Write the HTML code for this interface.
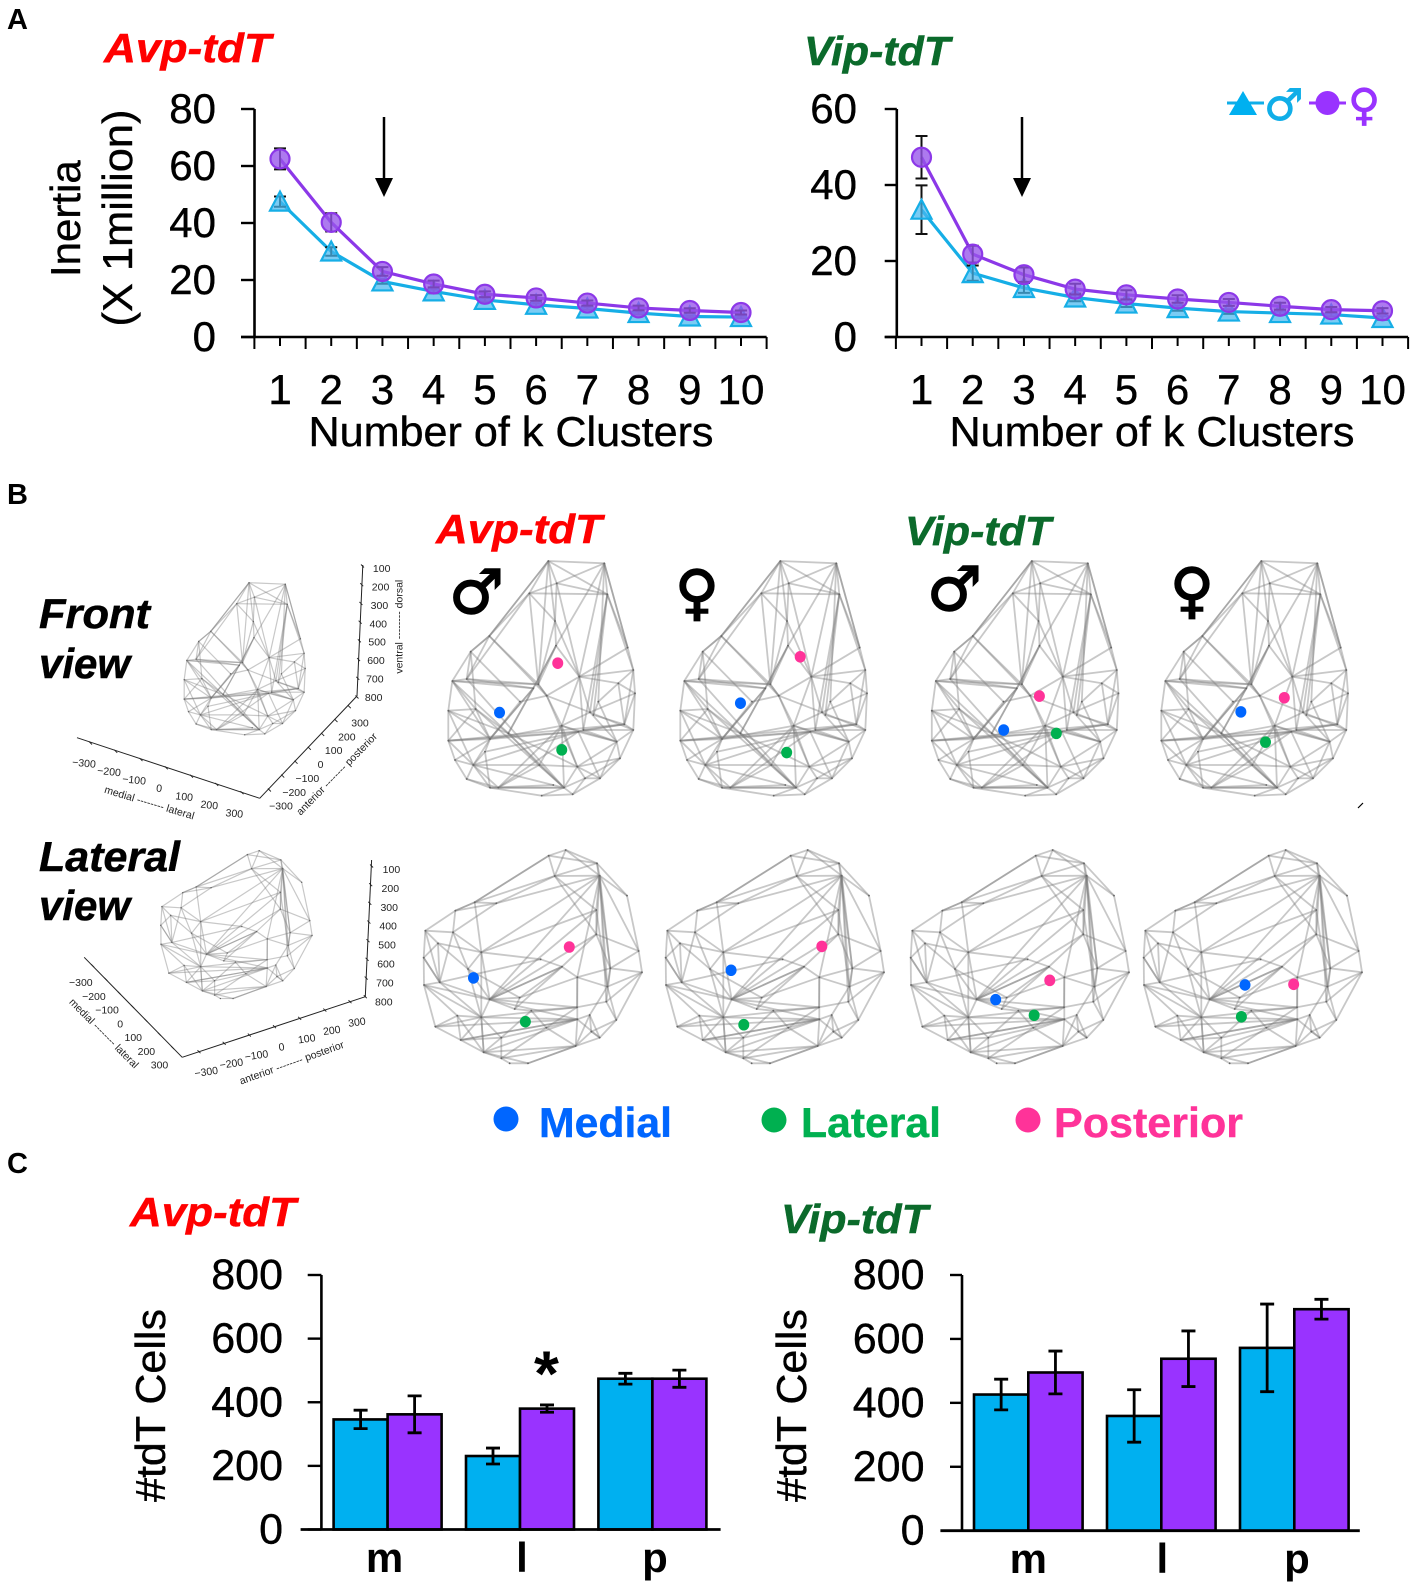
<!DOCTYPE html>
<html lang="en">
<head>
<meta charset="utf-8">
<title>Inertia, cluster positions and tdT cell counts</title>
<style>
  html,body{margin:0;padding:0;background:#fff;}
  svg{display:block;font-family:"Liberation Sans",sans-serif;}
  .panel{font-weight:bold;font-size:29px;fill:#000;}
  .title{font-weight:bold;font-style:italic;font-size:41px;stroke-width:.5px;}
  .view{font-weight:bold;font-style:italic;font-size:42px;fill:#000;stroke:#000;stroke-width:.5px;}
  .axis{font-size:42px;fill:#000;stroke:#000;stroke-width:.4px;}
  .sym{font-family:"DejaVu Sans",sans-serif;font-weight:bold;}
  .leg{font-weight:bold;font-size:42px;}
</style>
</head>
<body>
<svg id="fig" xmlns="http://www.w3.org/2000/svg" width="1416" height="1588" viewBox="0 0 1416 1588">
  <rect width="1416" height="1588" fill="#fff"/>

  <text class="panel" x="7" y="29">A</text>
  <text class="panel" x="7" y="504">B</text>
  <text class="panel" x="7" y="1173">C</text>

  <text class="title" x="104" y="62" fill="#ff0000" stroke="#ff0000" textLength="167" lengthAdjust="spacingAndGlyphs">Avp-tdT</text>
  <text class="title" x="804" y="65" fill="#0b6a2b" stroke="#0b6a2b" textLength="146" lengthAdjust="spacingAndGlyphs">Vip-tdT</text>
  <text class="title" x="436" y="543" fill="#ff0000" stroke="#ff0000" textLength="166" lengthAdjust="spacingAndGlyphs">Avp-tdT</text>
  <text class="title" x="905" y="545" fill="#0b6a2b" stroke="#0b6a2b" textLength="146" lengthAdjust="spacingAndGlyphs">Vip-tdT</text>
  <text class="title" x="130" y="1226" fill="#ff0000" stroke="#ff0000" textLength="166" lengthAdjust="spacingAndGlyphs">Avp-tdT</text>
  <text class="title" x="781" y="1233" fill="#0b6a2b" stroke="#0b6a2b" textLength="147" lengthAdjust="spacingAndGlyphs">Vip-tdT</text>

  <text class="axis" transform="translate(80,277) rotate(-90)">Inertia</text>
  <text class="axis" transform="translate(132,326.5) rotate(-90)" textLength="217" lengthAdjust="spacingAndGlyphs">(X 1million)</text>
  <text class="axis" x="308.5" y="446" textLength="405" lengthAdjust="spacingAndGlyphs">Number of k Clusters</text>
  <text class="axis" x="949.5" y="446" textLength="405" lengthAdjust="spacingAndGlyphs">Number of k Clusters</text>
  <text class="axis" transform="translate(165,1502) rotate(-90)" textLength="193" lengthAdjust="spacingAndGlyphs">#tdT Cells</text>
  <text class="axis" transform="translate(806,1502) rotate(-90)" textLength="193" lengthAdjust="spacingAndGlyphs">#tdT Cells</text>

  <g>
    <line x1="384" y1="117" x2="384" y2="180" stroke="#000" stroke-width="2.5"/>
    <polygon points="375,178 393,178 384,197" fill="#000"/>
  </g>
  <g>
    <line x1="1022" y1="117" x2="1022" y2="180" stroke="#000" stroke-width="2.5"/>
    <polygon points="1013,178 1031,178 1022,197" fill="#000"/>
  </g>

  <g>
    <line x1="1227" y1="103" x2="1264" y2="103" stroke="#10aee8" stroke-width="3"/>
    <polygon points="1243,91 1257,115 1229,115" fill="#00b0f0"/>
    <text class="sym" x="1264" y="120" font-size="44" fill="#10aee8" stroke="#10aee8" stroke-width=".8">♂</text>
    <line x1="1309" y1="103" x2="1346" y2="103" stroke="#9933ff" stroke-width="3"/>
    <circle cx="1327.5" cy="103" r="12" fill="#9933ff"/>
    <text class="sym" x="1348" y="120" font-size="44" fill="#9933ff" stroke="#9933ff" stroke-width=".8">♀</text>
  </g>

  <text class="view" x="39" y="628" textLength="111" lengthAdjust="spacingAndGlyphs">Front</text>
  <text class="view" x="39" y="678">view</text>
  <text class="view" x="39" y="871" textLength="141" lengthAdjust="spacingAndGlyphs">Lateral</text>
  <text class="view" x="39" y="920">view</text>

  <text class="sym" x="449" y="613" font-size="61" fill="#000" stroke="#000" stroke-width="1.6">♂</text>
  <text class="sym" x="675" y="613" font-size="60" fill="#000" stroke="#000" stroke-width="1.6">♀</text>
  <text class="sym" x="927" y="610" font-size="61" fill="#000" stroke="#000" stroke-width="1.6">♂</text>
  <text class="sym" x="1170" y="611" font-size="60" fill="#000" stroke="#000" stroke-width="1.6">♀</text>

  <g>
    <ellipse cx="506" cy="1119" rx="12.5" ry="12.5" fill="#0066ff"/>
    <text class="leg" x="539" y="1137" fill="#0066ff" stroke="#0066ff" stroke-width=".4" textLength="133" lengthAdjust="spacingAndGlyphs">Medial</text>
    <ellipse cx="774" cy="1120" rx="12.5" ry="12.5" fill="#00b050"/>
    <text class="leg" x="801" y="1137" fill="#00b050" stroke="#00b050" stroke-width=".4" textLength="140" lengthAdjust="spacingAndGlyphs">Lateral</text>
    <ellipse cx="1028" cy="1120" rx="12.5" ry="12.5" fill="#ff3399"/>
    <text class="leg" x="1054" y="1137" fill="#ff3399" stroke="#ff3399" stroke-width=".4" textLength="189" lengthAdjust="spacingAndGlyphs">Posterior</text>
  </g>

  <line x1="1358" y1="808" x2="1363" y2="803" stroke="#000" stroke-width="1.2"/>
</svg>

<script>
/* ---------- Panel A data ---------- */
const kClusters = [1, 2, 3, 4, 5, 6, 7, 8, 9, 10];
const avpInertiaMale = [47.5, 30, 19.5, 16, 13, 11.3, 10, 8.4, 7.2, 7];
const avpInertiaFemale = [62.5, 40.2, 23, 18.6, 15, 13.7, 11.9, 10.2, 9.3, 8.6];
const avpErrorMale = [1.8, 1.5, 0.8, 0.7, 0.6, 0.6, 0.5, 0.5, 0.4, 0.4];
const avpErrorFemale = [3.7, 3.2, 1.5, 1.2, 1, 1, 0.9, 0.8, 0.8, 0.7];
const vipInertiaMale = [33.5, 16.8, 12.9, 10.4, 8.8, 7.6, 6.7, 6.3, 5.9, 5];
const vipInertiaFemale = [47.3, 21.8, 16.4, 12.6, 11.1, 10, 9.1, 8.1, 7.2, 6.9];
const vipErrorMale = [6.4, 2, 1.3, 1, 0.9, 0.7, 0.6, 0.5, 0.5, 0.5];
const vipErrorFemale = [5.6, 2.2, 1.9, 1.4, 1.2, 1, 0.9, 0.9, 0.7, 0.7];
const avpInertiaTicks = [0, 20, 40, 60, 80];
const vipInertiaTicks = [0, 20, 40, 60];

/* ---------- Panel C data ---------- */
const regionCategories = ['m', 'l', 'p'];
const avpCellsMale = [346, 231, 474];
const avpCellsFemale = [362, 380, 474];
const avpCellsErrorMale = [29, 25, 17];
const avpCellsErrorFemale = [58, 11.5, 27];
const vipCellsMale = [426, 359, 572];
const vipCellsFemale = [495, 538, 693];
const vipCellsErrorMale = [48, 82, 137];
const vipCellsErrorFemale = [67, 87, 31];
const cellTicks = [0, 200, 400, 600, 800];

/* ---------- Panel B data: coordinates in axis units, one per panel (Avp male, Avp female, Vip male, Vip female) ---------- */
const frontMedialML = [-133, -104, -66, -41];
const frontMedialDV = [557, 529, 609, 555];
const frontLateralML = [69, 46, 105, 39];
const frontLateralDV = [668, 676, 619, 645];
const frontPosteriorML = [56, 90, 50, 100];
const frontPosteriorDV = [410, 391, 508, 513];
const sideMedialAP = [-164, -121, -67, -22];
const sideMedialDV = [518, 493, 589, 541];
const sideLateralAP = [-21, -86, 39, -32];
const sideLateralDV = [661, 671, 640, 645];
const sidePosteriorAP = [100, 129, 82, 112];
const sidePosteriorDV = [417, 415, 526, 539];
const planeTicks = ['\u2212300', '\u2212200', '\u2212100', '0', '100', '200', '300'];
const depthTicks = ['800', '700', '600', '500', '400', '300', '200', '100'];

/* ---------- Wireframe surface shapes ---------- */
const frontNodes = [[325,18],[493,25],[350,85],[268,115],[502,118],[345,198],[563,278],[148,243],[92,290],[348,272],[418,365],[580,345],[295,388],[37,378],[80,372],[280,400],[320,422],[450,472],[585,415],[25,467],[107,462],[150,552],[365,512],[430,525],[553,508],[580,525],[25,557],[100,630],[298,630],[412,635],[540,610],[480,670],[80,672],[175,698],[372,698],[435,670],[398,718],[305,722],[205,535],[240,440],[135,590],[535,385],[475,440],[460,480],[415,530],[45,615],[530,560],[150,698],[340,690]];
const frontEdges = [[0,1],[0,7],[0,7],[7,8],[7,8],[8,13],[13,19],[19,26],[26,45],[45,32],[32,47],[47,37],[37,36],[36,31],[31,30],[30,25],[25,18],[18,11],[11,6],[6,1],[6,1],[0,2],[0,4],[1,2],[2,3],[2,4],[3,4],[1,4],[4,6],[4,11],[0,3],[0,5],[0,12],[2,5],[2,10],[3,5],[3,7],[3,12],[3,14],[1,9],[1,10],[1,42],[4,17],[4,23],[4,43],[5,10],[5,12],[9,15],[9,15],[9,10],[9,12],[7,14],[7,12],[7,16],[8,14],[8,20],[14,12],[14,15],[13,14],[13,12],[13,15],[13,20],[13,21],[13,38],[15,38],[15,38],[15,21],[15,21],[39,21],[39,16],[20,19],[20,21],[20,26],[20,38],[19,21],[19,27],[26,21],[26,27],[26,44],[21,22],[21,27],[21,45],[21,40],[40,27],[40,47],[38,34],[38,28],[38,29],[14,34],[20,34],[16,10],[16,22],[16,17],[16,29],[16,12],[10,17],[10,41],[10,11],[10,22],[10,23],[10,6],[17,22],[17,25],[17,46],[17,18],[22,34],[22,28],[22,29],[22,44],[23,24],[23,44],[23,25],[23,46],[24,25],[24,41],[24,18],[24,11],[41,18],[41,42],[41,11],[42,43],[42,46],[43,24],[44,46],[44,31],[44,24],[45,27],[27,32],[27,33],[27,28],[27,34],[27,47],[28,33],[28,34],[28,29],[29,34],[29,31],[29,35],[29,30],[29,46],[30,35],[30,46],[31,35],[35,34],[35,36],[34,36],[34,37],[33,34],[47,34],[47,48],[32,33],[46,25],[46,31],[22,46],[40,44],[21,44],[26,24],[27,44],[33,22],[33,44],[12,16],[5,9],[19,38],[8,39]];
const sideNodes = [[443,15],[392,32],[537,55],[545,92],[627,152],[410,93],[112,197],[170,172],[235,175],[22,257],[105,262],[190,322],[535,195],[535,268],[662,318],[672,382],[577,370],[432,365],[478,397],[17,338],[65,412],[18,420],[215,463],[305,458],[477,487],[568,425],[190,517],[52,545],[340,497],[478,523],[595,525],[128,585],[197,622],[250,578],[545,578],[473,603],[250,640],[275,655],[330,655],[60,295],[150,372],[118,512],[368,343],[290,492],[385,548],[565,470],[515,510],[520,560]];
const sideEdges = [[0,1],[1,7],[1,7],[7,6],[7,6],[6,9],[9,19],[19,21],[21,27],[27,31],[31,32],[32,36],[36,37],[37,38],[38,35],[38,35],[35,34],[34,30],[30,15],[15,14],[14,4],[4,2],[2,0],[0,5],[1,5],[5,2],[5,3],[0,3],[2,3],[1,2],[3,4],[5,7],[5,8],[8,7],[8,10],[6,10],[8,6],[9,10],[7,11],[10,11],[9,39],[39,11],[39,40],[19,39],[39,20],[10,40],[10,20],[11,40],[19,20],[9,20],[20,21],[40,23],[40,26],[40,22],[11,22],[11,26],[3,12],[3,13],[3,16],[3,14],[3,18],[3,11],[3,22],[3,8],[2,16],[5,12],[5,13],[12,11],[12,22],[12,13],[13,22],[13,16],[13,17],[13,14],[16,14],[16,15],[16,18],[16,25],[16,45],[3,25],[3,45],[12,25],[17,22],[17,22],[17,23],[17,18],[17,43],[17,42],[42,20],[42,11],[18,24],[18,23],[18,29],[18,25],[25,15],[25,30],[45,15],[45,30],[45,24],[24,22],[24,26],[29,26],[29,46],[46,47],[46,34],[46,25],[47,34],[47,35],[29,34],[29,35],[22,23],[22,26],[22,43],[23,43],[20,26],[20,22],[21,26],[21,41],[27,26],[27,41],[41,31],[41,26],[41,32],[26,32],[26,32],[26,31],[26,33],[33,31],[33,32],[33,36],[33,44],[33,28],[28,44],[44,29],[44,35],[44,24],[28,43],[36,35],[32,35],[32,38],[32,29],[31,29],[31,29],[27,29],[36,44],[35,46],[28,24],[30,47],[19,20],[21,29]];

const NS = 'http://www.w3.org/2000/svg';
const fig = document.getElementById('fig');

function svgEl(tag, attrs, parent) {
  const e = document.createElementNS(NS, tag);
  for (const k in attrs) e.setAttribute(k, attrs[k]);
  parent.appendChild(e);
  return e;
}

/* ---------- Inertia line charts ---------- */
function drawInertiaChart(cfg) {
  const chart = svgEl('g', {}, fig);
  
  
  const xScale = k => cfg.x1 + (k - kClusters[0]) * (cfg.x10 - cfg.x1) / (kClusters[kClusters.length - 1] - kClusters[0]);
  const yScale = v => cfg.bottom - v * (cfg.bottom - cfg.top) / cfg.yMax;
  const halfStep = (cfg.x10 - cfg.x1) / (kClusters.length - 1) / 2;

  const yAxis = svgEl('line', {x1: cfg.axisX, x2: cfg.axisX, y1: cfg.top, y2: cfg.bottom, stroke: '#000', 'stroke-width': 2.6}, chart);
  
  
  const xAxis = svgEl('line', {x1: cfg.tickLeft, x2: cfg.x10 + halfStep, y1: cfg.bottom, y2: cfg.bottom, stroke: '#000', 'stroke-width': 2.6}, chart);
  
  

  cfg.ticks.forEach(t => {
    const y = yScale(t);
    const tick = svgEl('line', {x1: cfg.tickLeft, x2: cfg.axisX, y1: y, y2: y, stroke: '#000', 'stroke-width': 2.4}, chart);
    
    
    const lab = svgEl('text', {x: cfg.labelRight, y: y + 14, 'text-anchor': 'end', 'font-size': 42, fill: '#000', stroke: '#000', 'stroke-width': 0.4}, chart);
    lab.textContent = t;
    
    
  });

  kClusters.forEach(k => {
    const x = xScale(k);
    const mid = svgEl('line', {x1: x, x2: x, y1: cfg.bottom, y2: cfg.bottom + 9, stroke: '#000', 'stroke-width': 2}, chart);
    
    
    const edge = svgEl('line', {x1: x - halfStep, x2: x - halfStep, y1: cfg.bottom, y2: cfg.bottom + 12, stroke: '#000', 'stroke-width': 2}, chart);
    
    
    const lab = svgEl('text', {x: x, y: 404, 'text-anchor': 'middle', 'font-size': 42, fill: '#000', stroke: '#000', 'stroke-width': 0.4}, chart);
    lab.textContent = k;
    
    
  });
  const lastEdge = svgEl('line', {x1: cfg.x10 + halfStep, x2: cfg.x10 + halfStep, y1: cfg.bottom, y2: cfg.bottom + 12, stroke: '#000', 'stroke-width': 2}, chart);
  
  

  drawSeries(chart, 'male', cfg.male, cfg.maleErr, xScale, yScale, '#16aee6');
  drawSeries(chart, 'female', cfg.female, cfg.femaleErr, xScale, yScale, '#8c38e8');
}

function drawSeries(chart, sex, values, errors, xScale, yScale, color) {
  const pts = values.map((v, i) => xScale(kClusters[i]) + ',' + yScale(v)).join(' ');
  const line = svgEl('polyline', {points: pts, fill: 'none', stroke: color, 'stroke-width': 3.2}, chart);
  
  
  values.forEach((v, i) => {
    const x = xScale(kClusters[i]);
    const y = yScale(v);
    const hi = yScale(v + errors[i]);
    const lo = yScale(v - errors[i]);
    const err = svgEl('path', {d: 'M' + (x - 6) + ' ' + hi + 'H' + (x + 6) + 'M' + x + ' ' + hi + 'V' + lo + 'M' + (x - 6) + ' ' + lo + 'H' + (x + 6), fill: 'none', stroke: '#111', 'stroke-width': 2}, chart);
    
    
    let marker;
    if (sex === 'male') {
      marker = svgEl('polygon', {points: x + ',' + (y - 10) + ' ' + (x + 10) + ',' + (y + 9) + ' ' + (x - 10) + ',' + (y + 9), fill: 'rgba(70,185,240,.72)', stroke: color, 'stroke-width': 2.2}, chart);
    } else {
      marker = svgEl('circle', {cx: x, cy: y, r: 9.5, fill: 'rgba(150,85,235,.78)', stroke: color, 'stroke-width': 2.2}, chart);
    }
    
    
  });
}

drawInertiaChart({name: 'avp-inertia-chart', x1: 280, x10: 741, axisX: 254.5, tickLeft: 241, labelRight: 216, top: 109, bottom: 337, yMax: 80, ticks: avpInertiaTicks, male: avpInertiaMale, maleErr: avpErrorMale, female: avpInertiaFemale, femaleErr: avpErrorFemale});
drawInertiaChart({name: 'vip-inertia-chart', x1: 921.5, x10: 1382.5, axisX: 896.8, tickLeft: 884.7, labelRight: 857, top: 109, bottom: 337, yMax: 60, ticks: vipInertiaTicks, male: vipInertiaMale, maleErr: vipErrorMale, female: vipInertiaFemale, femaleErr: vipErrorFemale});

/* ---------- Wireframes ---------- */
function drawMesh(name, nodes, edges, mapX, mapY, width, nodeR) {
  const g = svgEl('g', {}, fig);
  
  
  edges.forEach(e => {
    const edge = svgEl('line', {x1: mapX(nodes[e[0]][0]).toFixed(1), y1: mapY(nodes[e[0]][1]).toFixed(1), x2: mapX(nodes[e[1]][0]).toFixed(1), y2: mapY(nodes[e[1]][1]).toFixed(1), stroke: '#7c7c7c', 'stroke-opacity': 0.42, 'stroke-width': width}, g);
    
    
  });
  nodes.forEach(n => {
    const c = svgEl('circle', {cx: mapX(n[0]), cy: mapY(n[1]), r: nodeR, fill: '#666'}, g);
    
    
  });
}

const frontOffsets = [0, 232, 483.5, 713];
const sideOffsets = [0, 242, 487, 720];
const panelNames = ['avp-male', 'avp-female', 'vip-male', 'vip-female'];

drawMesh('front-reference-mesh', frontNodes, frontEdges, x => 184 + (x / 3 + 440 - 448) * 0.648, y => 582.7 + (y / 3 + 555 - 561) * 0.648, 1.2, 0.7);
drawMesh('lateral-reference-mesh', sideNodes, sideEdges, x => 161 + (x / 3 + 418 - 424) * 0.693, y => 850.7 + (y / 3 + 845 - 850) * 0.693, 1.2, 0.7);
frontOffsets.forEach((dx, i) => {
  drawMesh('front-mesh-' + panelNames[i], frontNodes, frontEdges, x => 440 + x / 3 + dx, y => 555 + y / 3, 1.8, 0.9);
});
sideOffsets.forEach((dx, i) => {
  drawMesh('lateral-mesh-' + panelNames[i], sideNodes, sideEdges, x => 418 + x / 3 + dx, y => 845 + y / 3, 1.8, 0.9);
});

/* ---------- Region centroid dots ---------- */
function drawDots(view, region, color, xs, ys, centers, xK, yTop, yK) {
  xs.forEach((v, i) => {
    const dot = svgEl('ellipse', {cx: centers[i] + v * xK, cy: yTop + (ys[i] - 100) * yK, rx: 5.5, ry: 5.8, fill: color}, fig);
    
    
  });
}
const frontCenters = frontOffsets.map(d => 540.5 + d);
const sideCenters = sideOffsets.map(d => 533 + d);
drawDots('front', 'medial', '#0066ff', frontMedialML, frontMedialDV, frontCenters, 0.308, 559, 0.336);
drawDots('front', 'lateral', '#00b050', frontLateralML, frontLateralDV, frontCenters, 0.308, 559, 0.336);
drawDots('front', 'posterior', '#ff3399', frontPosteriorML, frontPosteriorDV, frontCenters, 0.308, 559, 0.336);
drawDots('side', 'medial', '#0066ff', sideMedialAP, sideMedialDV, sideCenters, 0.363, 850, 0.306);
drawDots('side', 'lateral', '#00b050', sideLateralAP, sideLateralDV, sideCenters, 0.363, 850, 0.306);
drawDots('side', 'posterior', '#ff3399', sidePosteriorAP, sidePosteriorDV, sideCenters, 0.363, 850, 0.306);

/* ---------- Small 3D axes ---------- */
function lerp(a, b, t) { return a + (b - a) * t; }
function drawAxis3D(name, labels, line, tickLine, labelLine, labelAngle) {
  const g = svgEl('g', {}, fig);
  
  
  const ax = svgEl('line', {x1: line[0], y1: line[1], x2: line[2], y2: line[3], stroke: '#222', 'stroke-width': 1}, g);
  
  
  labels.forEach((lab, i) => {
    const t = i / (labels.length - 1);
    const tx = lerp(tickLine[0], tickLine[2], t);
    const ty = lerp(tickLine[1], tickLine[3], t);
    const tick = svgEl('line', {x1: tx - 1.5, y1: ty - 1.5, x2: tx + 1.5, y2: ty + 1.5, stroke: '#222', 'stroke-width': 0.9}, g);
    
    
    const lx = lerp(labelLine[0], labelLine[2], t);
    const ly = lerp(labelLine[1], labelLine[3], t);
    const text = svgEl('text', {transform: 'translate(' + lx + ',' + ly + ') rotate(' + labelAngle + ')', 'text-anchor': 'middle', y: 3.7, 'font-size': 10.5, fill: '#222'}, g);
    text.textContent = lab;
    
    
  });
}
function axisCaption(name, text, cx, cy, angle) {
  const t = svgEl('text', {transform: 'translate(' + cx + ',' + cy + ') rotate(' + angle + ')', 'text-anchor': 'middle', y: 3.5, 'font-size': 10.5, fill: '#222'}, fig);
  t.textContent = text;
  
  
}
drawAxis3D('front-ml-axis', planeTicks, [77, 737.7, 259.7, 798.3], [90.5, 743, 242, 792.7], [84, 763, 234.4, 813.3], 6);
drawAxis3D('front-ap-axis', planeTicks, [259.7, 798.3, 357, 696], [269.4, 790, 349.3, 706.7], [281, 806, 360, 722.7], 0);
drawAxis3D('front-dv-axis', depthTicks, [357, 696, 362.8, 565], [357, 697, 362.5, 566], [373.7, 697.3, 381.7, 568.3], 0);
drawAxis3D('side-ml-axis', planeTicks, [84.2, 957.3, 182.2, 1057.3], [92.6, 965.7, 172.6, 1047.7], [80.8, 982.3, 159.5, 1065], 0);
drawAxis3D('side-ap-axis', planeTicks, [182.2, 1057.3, 365.3, 996.7], [199, 1051.7, 350, 1001.7], [206.2, 1071.7, 356.9, 1022], -8);
drawAxis3D('side-dv-axis', depthTicks, [365.3, 996.7, 371.6, 860], [365.3, 996.7, 371.6, 866], [383.8, 1001.7, 391.4, 869.3], 0);
axisCaption('front-medial-lateral-caption', 'medial -------- lateral', 149.4, 802.7, 16.8);
axisCaption('front-anterior-posterior-caption', 'anterior -------- posterior', 336.7, 774, -45.6);
axisCaption('front-ventral-dorsal-caption', 'ventral -------- dorsal', 399, 626.7, -90);
axisCaption('side-medial-lateral-caption', 'medial -------- lateral', 104, 1033.3, 45.2);
axisCaption('side-anterior-posterior-caption', 'anterior -------- posterior', 291.7, 1062.7, -19.7);

/* ---------- Cell-count bar charts ---------- */
function drawBarChart(cfg) {
  const chart = svgEl('g', {}, fig);
  
  
  const yScale = v => cfg.bottom - v * (cfg.bottom - cfg.top) / cellTicks[cellTicks.length - 1];
  const drawBar = (x, value, err, color, label) => {
    const bar = svgEl('rect', {x: x, y: yScale(value), width: cfg.barW, height: cfg.bottom - yScale(value), fill: color, stroke: '#000', 'stroke-width': 2.6}, chart);
    
    
    const cx = x + cfg.barW / 2;
    const hi = yScale(value + err);
    const lo = yScale(value - err);
    const eb = svgEl('path', {d: 'M' + (cx - 7) + ' ' + hi + 'H' + (cx + 7) + 'M' + cx + ' ' + hi + 'V' + lo + 'M' + (cx - 7) + ' ' + lo + 'H' + (cx + 7), fill: 'none', stroke: '#000', 'stroke-width': 2.8}, chart);
    
    
  };
  regionCategories.forEach((cat, i) => {
    const left = cfg.first + i * cfg.pitch;
    drawBar(left, cfg.male[i], cfg.maleErr[i], '#00b0f0', 'bar-male-' + cat);
    drawBar(left + cfg.barW, cfg.female[i], cfg.femaleErr[i], '#9933ff', 'bar-female-' + cat);
    const lab = svgEl('text', {x: left + cfg.barW + cfg.labelShift[i], y: cfg.labelY, 'text-anchor': 'middle', 'font-size': 42, 'font-weight': 'bold', fill: '#000'}, chart);
    lab.textContent = cat;
    
    
  });
  const yAxis = svgEl('line', {x1: cfg.axisX, x2: cfg.axisX, y1: cfg.top, y2: cfg.bottom, stroke: '#000', 'stroke-width': 2.6}, chart);
  
  
  const xAxis = svgEl('line', {x1: cfg.xStart, x2: cfg.xEnd, y1: cfg.bottom, y2: cfg.bottom, stroke: '#000', 'stroke-width': 2.8}, chart);
  
  
  cellTicks.forEach(t => {
    const y = yScale(t);
    const tick = svgEl('line', {x1: cfg.tickLeft, x2: cfg.axisX, y1: y, y2: y, stroke: '#000', 'stroke-width': 2.4}, chart);
    
    
    const lab = svgEl('text', {x: cfg.labelRight, y: y + 14, 'text-anchor': 'end', 'font-size': 43, fill: '#000', stroke: '#000', 'stroke-width': 0.4}, chart);
    lab.textContent = t;
    
    
  });
}
drawBarChart({name: 'avp-cells-chart', first: 333.6, pitch: 132.4, barW: 54, top: 1275, bottom: 1529.5, axisX: 321.4, tickLeft: 307.7, labelRight: 283, xStart: 300.6, xEnd: 720.6, labelY: 1572, labelShift: [-3, 2, 2.6], male: avpCellsMale, female: avpCellsFemale, maleErr: avpCellsErrorMale, femaleErr: avpCellsErrorFemale});
drawBarChart({name: 'vip-cells-chart', first: 974, pitch: 133, barW: 54.3, top: 1275, bottom: 1530.7, axisX: 962, tickLeft: 950, labelRight: 924.5, xStart: 940.4, xEnd: 1359.8, labelY: 1573, labelShift: [0, 1, 2.7], male: vipCellsMale, female: vipCellsFemale, maleErr: vipCellsErrorMale, femaleErr: vipCellsErrorFemale});

const star = svgEl('text', {x: 546.5, y: 1395.5, 'text-anchor': 'middle', 'font-size': 64, 'font-weight': 'bold', fill: '#000'}, fig);
star.textContent = '*';


</script>
</body>
</html>
